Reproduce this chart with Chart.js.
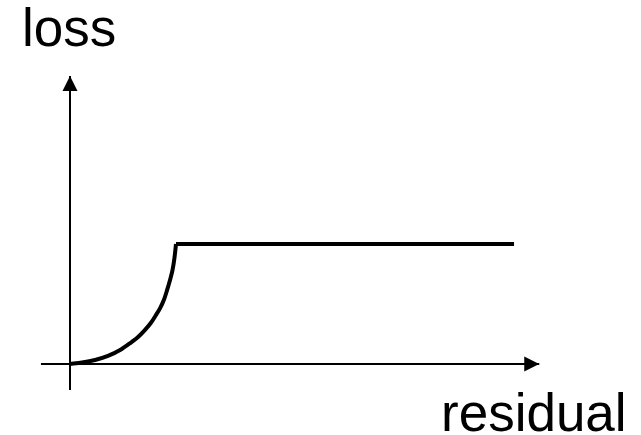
<!DOCTYPE html>
<html>
<head>
<meta charset="utf-8">
<script src="https://cdn.jsdelivr.net/npm/chart.js@4/dist/chart.umd.min.js"></script>
<style>
  html, body { margin: 0; padding: 0; background: #ffffff; }
  #wrap { width: 641px; height: 435px; position: relative; }
</style>
</head>
<body>
<div id="wrap"><canvas id="c"></canvas></div>
<script>
// Axis labels
const yLabel = 'loss';
const xLabel = 'residual';

// Loss curve: rising part (residual, loss), normalized so threshold = 1, plateau = 1
const curveX = [0, 0.113, 0.236, 0.358, 0.481, 0.575, 0.642, 0.708, 0.764, 0.811, 0.849, 0.887, 0.915, 0.943, 0.967, 0.986, 1.0];
const curveY = [0, 0.012, 0.033, 0.067, 0.121, 0.179, 0.225, 0.285, 0.344, 0.408, 0.463, 0.538, 0.613, 0.698, 0.782, 0.888, 1.0];

// Flat part of the loss
const plateauX = [1.0, 4.189];
const plateauY = [1.0, 1.0];

// Axes (last point = arrow tip)
const xAxisX = [-0.274, 4.427];
const xAxisY = [0, 0];
const yAxisX = [0, 0];
const yAxisY = [-0.217, 2.4];

// Visible window
const xRange = [-0.6604, 5.3868];
const yRange = [-0.5917, 3.0333];

const toPts = (xs, ys) => xs.map((x, i) => ({ x: x, y: ys[i] }));

const arrowPlugin = {
  id: 'arrows',
  afterDatasetsDraw(chart) {
    const ctx = chart.ctx;
    const xs = chart.scales.x, ys = chart.scales.y;
    [0, 1].forEach(idx => {
      const d = chart.data.datasets[idx].data;
      const a = d[d.length - 2], b = d[d.length - 1];
      const ax = xs.getPixelForValue(a.x), ay = ys.getPixelForValue(a.y);
      const bx = xs.getPixelForValue(b.x), by = ys.getPixelForValue(b.y);
      const ang = Math.atan2(by - ay, bx - ax);
      const len = 15, half = 7.5;
      ctx.save();
      ctx.translate(bx, by);
      ctx.rotate(ang);
      ctx.fillStyle = '#000';
      ctx.beginPath();
      ctx.moveTo(0, 0);
      ctx.lineTo(-len, -half);
      ctx.lineTo(-len, half);
      ctx.closePath();
      ctx.fill();
      ctx.restore();
    });
  },
  afterDraw(chart) {
    const ctx = chart.ctx;
    ctx.save();
    ctx.fillStyle = '#000';
    ctx.font = '53px "Liberation Sans", Arial, sans-serif';
    ctx.textBaseline = 'alphabetic';
    ctx.textAlign = 'left';
    ctx.fillText(yLabel, 22, 46);
    ctx.fillText(xLabel, 441, 431);
    ctx.restore();
  }
};

new Chart(document.getElementById('c'), {
  type: 'scatter',
  data: {
    datasets: [
      { data: toPts(xAxisX, xAxisY), showLine: true, borderColor: '#000', borderWidth: 2, pointRadius: 0, borderCapStyle: 'butt', tension: 0 },
      { data: toPts(yAxisX, yAxisY), showLine: true, borderColor: '#000', borderWidth: 2, pointRadius: 0, borderCapStyle: 'butt', tension: 0 },
      { data: toPts(curveX, curveY), showLine: true, borderColor: '#000', borderWidth: 4, pointRadius: 0, tension: 0.3, borderCapStyle: 'butt', borderJoinStyle: 'round' },
      { data: toPts(plateauX, plateauY), showLine: true, borderColor: '#000', borderWidth: 4, pointRadius: 0, borderCapStyle: 'butt', tension: 0 }
    ]
  },
  options: {
    responsive: true,
    maintainAspectRatio: false,
    animation: false,
    events: [],
    layout: { padding: 0 },
    plugins: { legend: { display: false }, tooltip: { enabled: false }, title: { display: false } },
    scales: {
      x: { type: 'linear', display: false, min: xRange[0], max: xRange[1] },
      y: { type: 'linear', display: false, min: yRange[0], max: yRange[1] }
    },
    clip: false
  },
  plugins: [arrowPlugin]
});
</script>
</body>
</html>
